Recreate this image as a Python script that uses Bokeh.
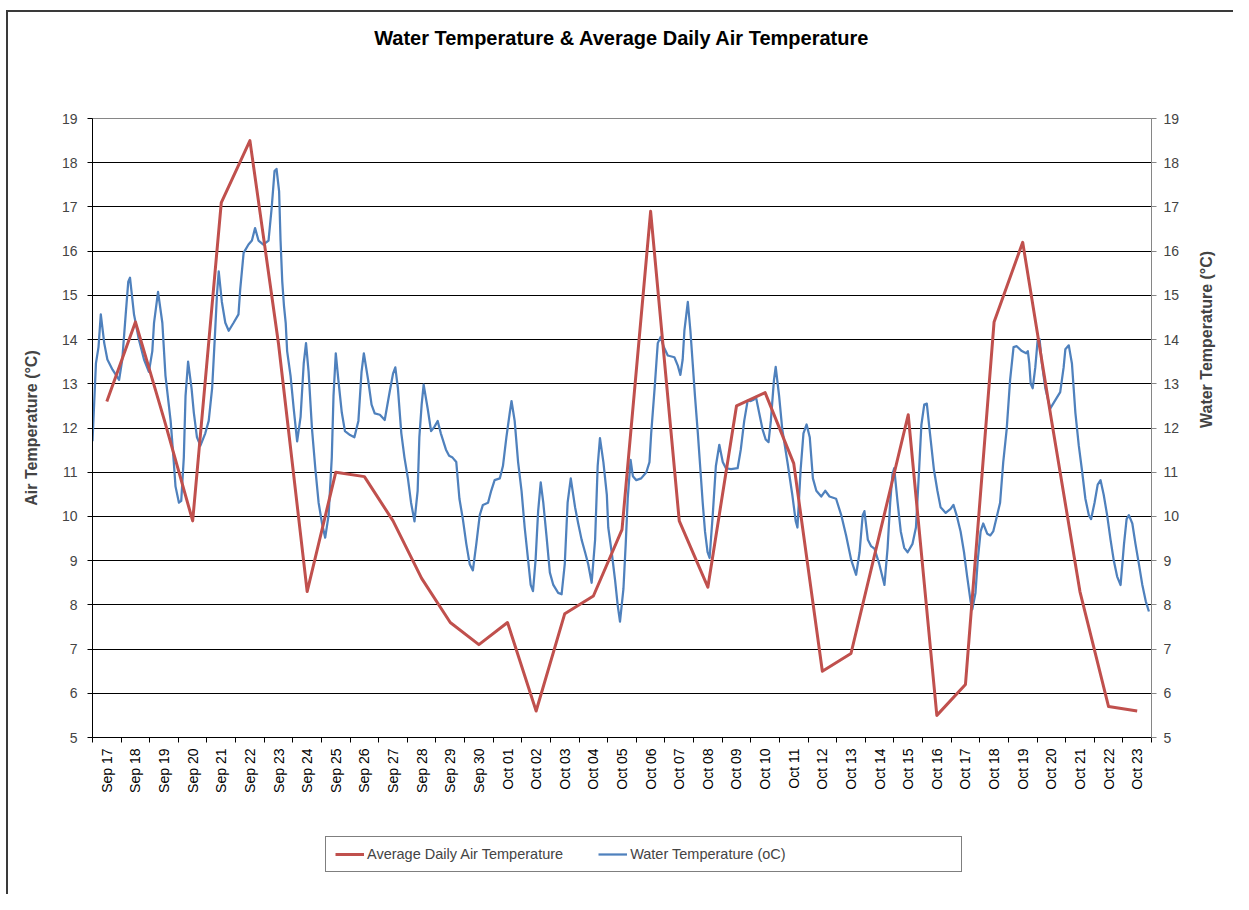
import math
from bokeh.plotting import figure
from bokeh.layouts import column
from bokeh.models import Range1d, LinearAxis, FixedTicker, Legend, LegendItem
from bokeh.embed import file_html
from bokeh.resources import INLINE

# ---------------- data ----------------
days = ["Sep 17", "Sep 18", "Sep 19", "Sep 20", "Sep 21", "Sep 22", "Sep 23", "Sep 24",
        "Sep 25", "Sep 26", "Sep 27", "Sep 28", "Sep 29", "Sep 30", "Oct 01", "Oct 02",
        "Oct 03", "Oct 04", "Oct 05", "Oct 06", "Oct 07", "Oct 08", "Oct 09", "Oct 10",
        "Oct 11", "Oct 12", "Oct 13", "Oct 14", "Oct 15", "Oct 16", "Oct 17", "Oct 18",
        "Oct 19", "Oct 20", "Oct 21", "Oct 22", "Oct 23"]

air_temp = [12.6, 14.4, 12.2, 9.9, 17.1, 18.5, 13.9, 8.3, 11.0, 10.9, 9.9, 8.6, 7.6,
            7.1, 7.6, 5.6, 7.8, 8.2, 9.7, 16.9, 9.9, 8.4, 12.5, 12.8, 11.2, 6.5, 6.9,
            9.6, 12.3, 5.5, 6.2, 14.4, 16.2, 12.2, 8.3, 5.7, 5.6]

# water temperature: time in days since start of Sep 17, value in degC
water_day = [0.00, 0.12, 0.21, 0.29, 0.41, 0.52, 0.70, 0.93, 1.04, 1.16, 1.25, 1.31, 1.45,
             1.62, 1.80, 1.97, 2.09, 2.15, 2.29, 2.44, 2.55, 2.73, 2.84, 2.90, 3.02, 3.10,
             3.19, 3.25, 3.34, 3.46, 3.54, 3.65, 3.77, 3.94, 4.06, 4.18, 4.27, 4.35, 4.41,
             4.52, 4.64, 4.76, 4.93, 5.10, 5.16, 5.28, 5.45, 5.57, 5.68, 5.80, 5.97, 6.15,
             6.26, 6.36, 6.43, 6.52, 6.57, 6.63, 6.69, 6.75, 6.80, 6.92, 7.03, 7.15, 7.27,
             7.38, 7.46, 7.55, 7.67, 7.79, 7.90, 8.02, 8.13, 8.25, 8.36, 8.42, 8.50, 8.59,
             8.71, 8.82, 9.00, 9.15, 9.29, 9.40, 9.48, 9.63, 9.75, 9.86, 10.04, 10.21,
             10.38, 10.50, 10.58, 10.67, 10.79, 10.90, 11.02, 11.13, 11.25, 11.36, 11.42,
             11.50, 11.57, 11.71, 11.83, 11.94, 12.06, 12.17, 12.35, 12.46, 12.58, 12.71,
             12.82, 12.94, 13.06, 13.18, 13.29, 13.41, 13.53, 13.64, 13.82, 13.93, 14.05,
             14.23, 14.34, 14.46, 14.58, 14.64, 14.75, 14.87, 14.99, 15.10, 15.22, 15.31,
             15.39, 15.48, 15.57, 15.66, 15.75, 15.86, 15.98, 16.10, 16.27, 16.39, 16.50,
             16.60, 16.71, 16.86, 16.97, 17.09, 17.21, 17.32, 17.44, 17.56, 17.65, 17.73,
             17.85, 17.97, 18.02, 18.14, 18.26, 18.35, 18.43, 18.55, 18.63, 18.70, 18.80,
             18.88, 19.00, 19.17, 19.35, 19.46, 19.52, 19.64, 19.70, 19.75, 19.85, 19.96,
             20.10, 20.33, 20.45, 20.54, 20.62, 20.68, 20.80, 20.89, 20.97, 21.05, 21.15,
             21.24, 21.32, 21.40, 21.49, 21.56, 21.67, 21.78, 21.90, 22.02, 22.13, 22.31,
             22.54, 22.65, 22.77, 22.89, 23.00, 23.10, 23.18, 23.29, 23.41, 23.52, 23.62,
             23.70, 23.81, 23.87, 23.99, 24.10, 24.28, 24.45, 24.57, 24.63, 24.74, 24.84,
             24.95, 25.06, 25.17, 25.29, 25.46, 25.60, 25.75, 25.98, 26.16, 26.33, 26.51,
             26.68, 26.80, 26.91, 26.97, 27.09, 27.20, 27.32, 27.49, 27.67, 27.78, 27.87,
             27.95, 28.01, 28.13, 28.24, 28.36, 28.48, 28.65, 28.77, 28.88, 28.96, 29.06,
             29.15, 29.26, 29.40, 29.52, 29.63, 29.81, 29.98, 30.08, 30.19, 30.33, 30.45,
             30.56, 30.68, 30.74, 30.85, 30.93, 31.03, 31.12, 31.26, 31.37, 31.47, 31.59,
             31.71, 31.82, 31.94, 32.06, 32.18, 32.29, 32.47, 32.62, 32.68, 32.73, 32.78,
             32.85, 32.94, 33.02, 33.09, 33.17, 33.29, 33.46, 33.64, 33.81, 33.93, 33.99,
             34.11, 34.22, 34.34, 34.46, 34.57, 34.69, 34.81, 34.89, 35.01, 35.12, 35.22,
             35.33, 35.45, 35.57, 35.68, 35.80, 35.92, 36.04, 36.13, 36.21, 36.33, 36.44,
             36.56, 36.68, 36.80, 36.91]

water_temp = [11.70, 13.46, 13.83, 14.57, 13.92, 13.55, 13.32, 13.09, 13.55, 14.57, 15.31,
              15.40, 14.57, 14.00, 13.55, 13.27, 13.74, 14.38, 15.08, 14.38, 13.18, 12.16,
              11.23, 10.68, 10.31, 10.35, 11.33, 12.72, 13.50, 12.90, 12.35, 11.79, 11.60,
              11.88, 12.16, 12.90, 14.00, 15.03, 15.54, 14.85, 14.38, 14.20, 14.38, 14.57,
              15.13, 15.96, 16.15, 16.24, 16.52, 16.24, 16.15, 16.24, 16.98, 17.81, 17.86,
              17.35, 16.24, 15.31, 14.76, 14.38, 13.74, 13.18, 12.44, 11.70, 12.25, 13.46,
              13.92, 13.27, 11.97, 11.05, 10.31, 9.84, 9.52, 10.03, 11.33, 12.72, 13.69,
              13.09, 12.35, 11.93, 11.84, 11.79, 12.16, 13.27, 13.69, 13.09, 12.53, 12.33,
              12.30, 12.18, 12.81, 13.23, 13.37, 12.90, 11.88, 11.33, 10.86, 10.31, 9.89,
              10.58, 11.79, 12.53, 12.98, 12.44, 11.93, 12.02, 12.16, 11.88, 11.51, 11.37,
              11.33, 11.23, 10.40, 9.94, 9.38, 8.92, 8.78, 9.38, 10.03, 10.26, 10.31, 10.58,
              10.82, 10.86, 11.14, 11.79, 12.35, 12.61, 12.16, 11.23, 10.58, 9.75, 9.01,
              8.45, 8.31, 9.01, 10.12, 10.77, 10.31, 9.57, 8.73, 8.45, 8.27, 8.24, 8.92,
              10.31, 10.86, 10.21, 9.84, 9.47, 9.19, 8.92, 8.50, 9.47, 11.14, 11.77, 11.23,
              10.49, 9.75, 9.19, 8.55, 7.99, 7.62, 8.36, 9.38, 10.40, 11.28, 10.91, 10.82,
              10.86, 11.00, 11.23, 11.88, 12.90, 13.46, 13.92, 14.06, 13.83, 13.64, 13.60,
              13.41, 13.20, 13.55, 14.20, 14.85, 14.20, 13.46, 12.72, 11.88, 11.05, 10.31,
              9.66, 9.19, 9.06, 10.03, 11.14, 11.62, 11.23, 11.09, 11.07, 11.09, 11.51,
              12.16, 12.62, 12.61, 12.64, 12.70, 12.35, 11.97, 11.74, 11.68, 12.16, 13.09,
              13.38, 12.72, 11.97, 11.23, 10.49, 9.89, 9.75, 11.05, 11.88, 12.08, 11.79,
              10.86, 10.58, 10.45, 10.58, 10.45, 10.40, 10.03, 9.57, 9.01, 8.68, 9.19,
              10.03, 10.12, 9.47, 9.33, 9.27, 8.92, 8.45, 9.29, 10.31, 10.96, 11.09, 10.31,
              9.66, 9.29, 9.19, 9.38, 9.75, 11.05, 12.07, 12.53, 12.55, 11.88, 11.05, 10.58,
              10.21, 10.08, 10.17, 10.26, 10.03, 9.66, 9.19, 8.64, 8.08, 7.90, 8.27, 9.01,
              9.66, 9.84, 9.61, 9.57, 9.66, 9.98, 10.31, 11.23, 11.97, 13.09, 13.83, 13.85,
              13.74, 13.69, 13.74, 13.46, 13.00, 12.90, 13.37, 13.97, 14.01, 13.46, 12.90,
              12.44, 12.63, 12.81, 13.37, 13.78, 13.87, 13.46, 12.35, 11.60, 11.05, 10.40,
              10.03, 9.94, 10.31, 10.72, 10.82, 10.49, 10.03, 9.47, 9.01, 8.64, 8.45, 9.38,
              9.94, 10.03, 9.84, 9.38, 8.92, 8.45, 8.08, 7.85]

y_ticks = list(range(5, 20))
title_text = "Water Temperature & Average Daily Air Temperature"
air_label = "Average Daily Air Temperature"
water_label = "Water Temperature (oC)"

# ---------------- main figure ----------------
FONT = "Liberation Sans"
RED = "#C0504D"
BLUE = "#4F81BD"
GRAY = "#868686"

n = len(days)
p = figure(width=1233, height=812, output_backend="svg", toolbar_location=None,
           x_range=Range1d(0, n), y_range=Range1d(5, 19),
           min_border_left=92, min_border_right=82, min_border_top=118,
           min_border_bottom=75)
p.extra_y_ranges = {"water": Range1d(5, 19)}

p.background_fill_color = "white"
p.border_fill_color = None
p.outline_line_color = GRAY
p.outline_line_width = 1

# bottom (category) axis
xa = p.below[0]
centers = [i + 0.5 for i in range(n)]
xa.ticker = FixedTicker(ticks=centers, minor_ticks=list(range(n + 1)))
xa.major_label_overrides = {c: d for c, d in zip(centers, days)}
xa.major_label_orientation = math.pi / 2
xa.major_tick_line_color = None
xa.major_tick_out = 5
xa.major_tick_in = 0
xa.minor_tick_out = 5
xa.minor_tick_in = 0
xa.minor_tick_line_color = "#000000"
xa.axis_line_color = "#000000"
xa.major_label_standoff = 6
xa.major_label_text_font = FONT
xa.major_label_text_font_size = "14px"
xa.major_label_text_color = "#000000"

# left axis
ya = p.left[0]
ya.ticker = FixedTicker(ticks=y_ticks)
ya.axis_label = "Air Temperature (\u00b0C)"
ya.axis_label_text_font = FONT
ya.axis_label_text_font_size = "16px"
ya.axis_label_text_font_style = "bold"
ya.axis_label_standoff = 19
ya.major_label_text_font = FONT
ya.major_label_text_font_size = "14px"
ya.major_label_standoff = 10
ya.major_tick_out = 5
ya.major_tick_in = 0
ya.minor_tick_line_color = None
ya.axis_line_color = "#000000"
ya.major_tick_line_color = "#000000"

# title drawn as the label of an empty axis above the plot area
ta = LinearAxis(ticker=FixedTicker(ticks=[]))
ta.axis_label = title_text
ta.axis_label_text_font = FONT
ta.axis_label_text_font_size = "20px"
ta.axis_label_text_font_style = "bold"
ta.axis_label_text_color = "#000000"
ta.axis_label_standoff = 70
ta.axis_line_color = None
ta.major_tick_line_color = None
ta.minor_tick_line_color = None
ta.major_tick_out = 0
ta.major_tick_in = 0
ta.minor_tick_out = 0
ta.major_label_standoff = 0
p.add_layout(ta, "above")

# grid
p.xgrid.visible = False
p.ygrid.ticker = FixedTicker(ticks=y_ticks[1:-1])
p.ygrid.grid_line_color = "#000000"
p.ygrid.grid_line_width = 1

# right axis
ra = LinearAxis(y_range_name="water", ticker=FixedTicker(ticks=y_ticks))
ra.axis_label = "Water Temperature (\u00b0C)"
ra.axis_label_text_font = FONT
ra.axis_label_text_font_size = "16px"
ra.axis_label_text_font_style = "bold"
ra.axis_label_standoff = 24
ra.axis_label_orientation = math.pi / 2
ra.major_label_text_font = FONT
ra.major_label_text_font_size = "14px"
ra.major_label_standoff = 7
ra.major_tick_out = 5
ra.major_tick_in = 0
ra.minor_tick_line_color = None
ra.axis_line_color = GRAY
ra.major_tick_line_color = GRAY
p.add_layout(ra, "right")

# data lines
p.line(water_day, water_temp, y_range_name="water", line_color=BLUE,
       line_width=2.25, line_join="round")
p.line(centers, air_temp, line_color=RED, line_width=3, line_join="round")

# ---------------- legend strip ----------------
lg = figure(width=1233, height=82, output_backend="svg", toolbar_location=None,
            x_axis_type=None, y_axis_type=None, x_range=Range1d(0, 1),
            y_range=Range1d(0, 1), min_border=0)
lg.outline_line_color = None
lg.grid.visible = False
lg.background_fill_color = "white"
lg.border_fill_color = None
# key samples only: their points lie outside the strip's visible range
air_key = lg.line([2, 3], [2, 3], line_color=RED, line_width=3)
water_key = lg.line([2, 3], [2, 3], line_color=BLUE, line_width=2.25)
pad_key = lg.line([2, 3], [2, 3], line_alpha=0)

legend = Legend(items=[LegendItem(label=air_label, renderers=[air_key]),
                       LegendItem(label=water_label, renderers=[water_key]),
                       LegendItem(label=" ", renderers=[pad_key])],
                orientation="horizontal", location=(233, 22))
legend.label_text_font = FONT
legend.label_text_font_size = "14.5px"
legend.label_standoff = 3
legend.glyph_width = 29
legend.glyph_height = 16
legend.spacing = 35
legend.padding = 9
legend.margin = 0
legend.label_width = 99
legend.border_line_color = "#000000"
legend.border_line_width = 1
legend.background_fill_color = "white"
lg.add_layout(legend)

layout = column(p, lg, spacing=0)
# chart-area frame: left and top edges only, as in the original
layout.styles = {
    "background": ("linear-gradient(#3a3a3a, #3a3a3a) 6px 10px / 2px 100% no-repeat, "
                   "linear-gradient(#3a3a3a, #3a3a3a) 6px 10px / 100% 2px no-repeat, "
                   "#ffffff")
}

open("out.html", "w").write(file_html(layout, INLINE))
